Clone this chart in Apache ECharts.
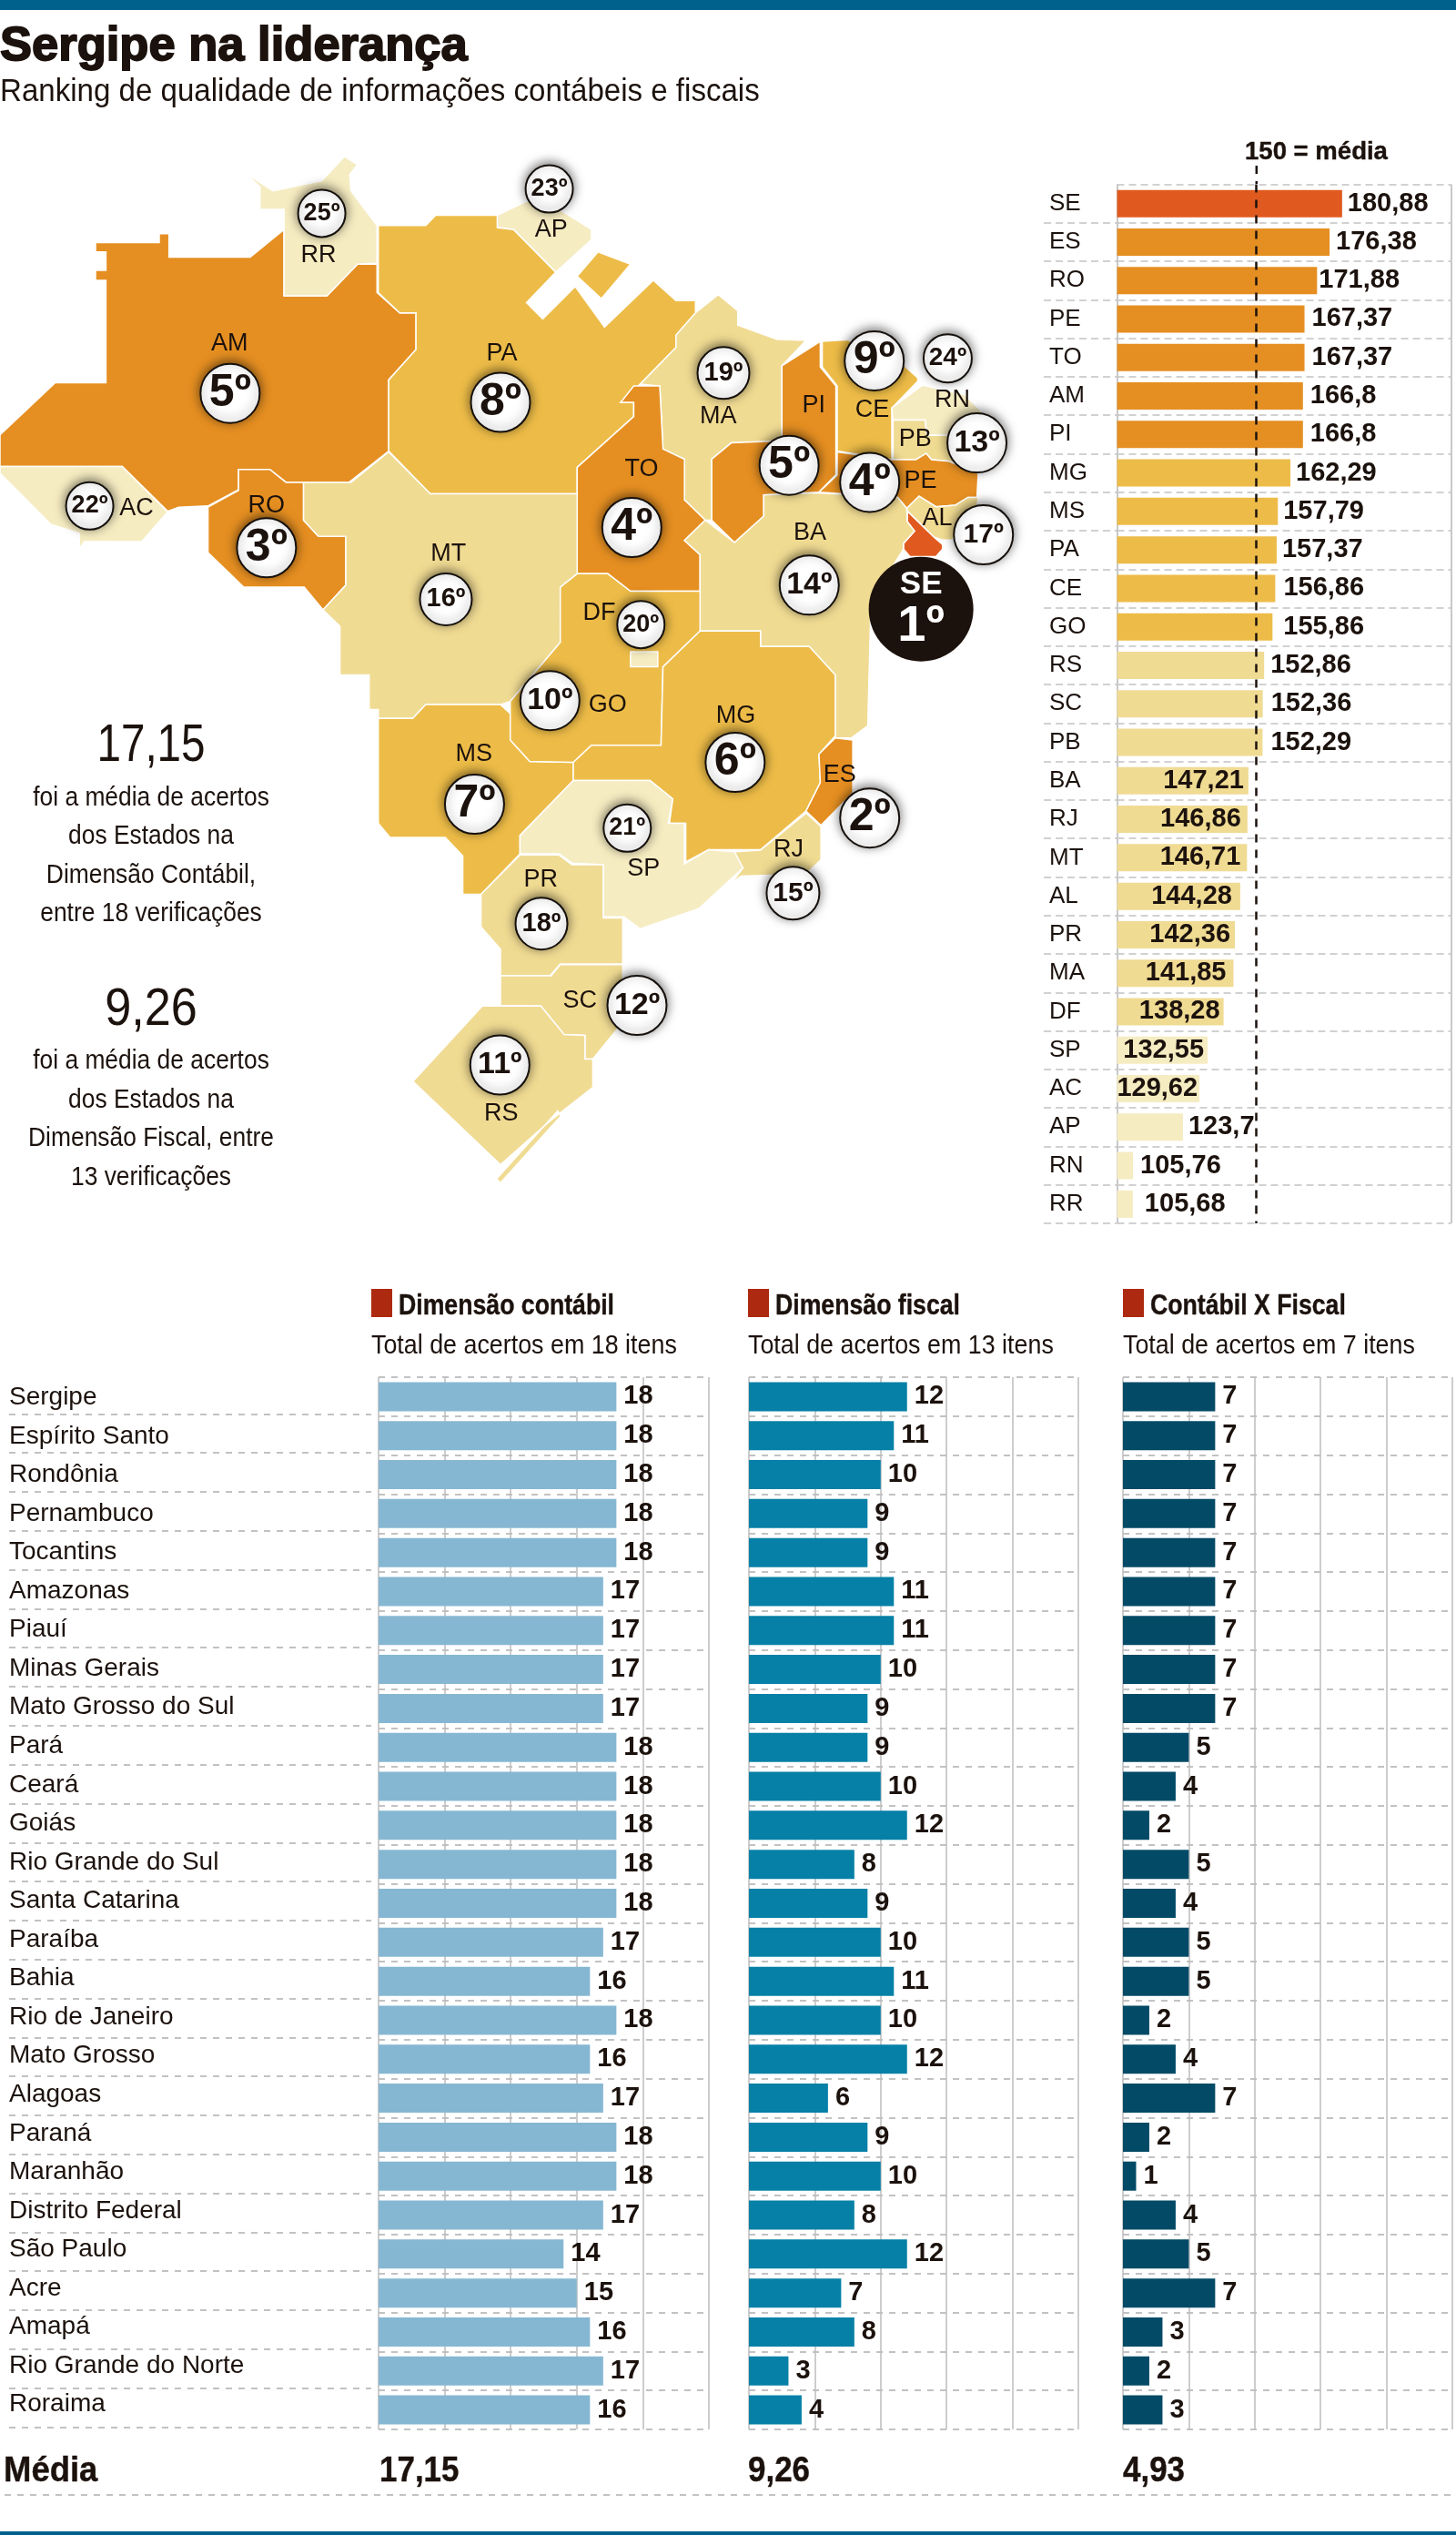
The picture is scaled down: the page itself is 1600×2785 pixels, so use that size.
<!DOCTYPE html>
<html>
<head>
<meta charset="utf-8">
<style>html,body{margin:0;padding:0;background:#fff}#main{width:1600px;height:2785px}</style>
<script src="https://cdn.jsdelivr.net/npm/echarts@6/dist/echarts.min.js"></script>
</head>
<body>
<div id="main"></div>
<script>
// ranking
const rankCodes = ['SE','ES','RO','PE','TO','AM','PI','MG','MS','PA','CE','GO','RS','SC','PB','BA','RJ','MT','AL','PR','MA','DF','SP','AC','AP','RN','RR'];
const rankValues = [180.88,176.38,171.88,167.37,167.37,166.8,166.8,162.29,157.79,157.37,156.86,155.86,152.86,152.36,152.29,147.21,146.86,146.71,144.28,142.36,141.85,138.28,132.55,129.62,123.7,105.76,105.68];
const rankPositions = [1,2,3,4,4,5,5,6,7,8,9,10,11,12,13,14,15,16,17,18,19,20,21,22,23,24,25];

// tabela de baixo
const stateNames = ['Sergipe','Espírito Santo','Rondônia','Pernambuco','Tocantins','Amazonas','Piauí','Minas Gerais','Mato Grosso do Sul','Pará','Ceará','Goiás','Rio Grande do Sul','Santa Catarina','Paraíba','Bahia','Rio de Janeiro','Mato Grosso','Alagoas','Paraná','Maranhão','Distrito Federal','São Paulo','Acre','Amapá','Rio Grande do Norte','Roraima'];
const contabil = [18,18,18,18,18,17,17,17,17,18,18,18,18,18,17,16,18,16,17,18,18,17,14,15,16,17,16];
const fiscal = [12,11,10,9,9,11,11,10,9,9,10,12,8,9,10,11,10,12,6,9,10,8,12,7,8,3,4];
const contabilFiscal = [7,7,7,7,7,7,7,7,7,5,4,2,5,4,5,5,2,4,7,2,1,4,5,7,3,2,3];

const font = '"Liberation Sans",sans-serif';
const ink = '#1c120d';
const gridGray = '#c2c2c2';

// contornos tracados sobre o mapa (px = x/1.4, y/2.24)
const outlines = {
  AM: [[147,597,245,597,245,575,260,575,260,633,385,633,437,565,437,728,503,728,550,650,580,650,580,720,615,770,640,770,640,860,598,935,598,1110,537,1187,440,1187,415,1155,367,1155,367,1205,320,1245,275,1248,258,1258,188,1148,0,1148,0,1070,85,942,163,942,163,690,147,690,147,665,163,665,163,620,147,620]],
  AC: [[0,1148,188,1148,258,1260,218,1333,130,1333,122,1350,122,1312,78,1290,0,1165]],
  RO: [[367,1155,415,1155,440,1187,467,1187,467,1280,490,1320,532,1320,532,1440,497,1501,468,1445,375,1445,320,1360,320,1248,367,1207]],
  RR: [[375,423,400,460,400,515,437,515,437,728,503,728,550,650,580,648,580,555,540,470,538,430,550,405,530,385,495,445,420,470]],
  AP: [[765,530,810,495,845,500,910,565,910,590,855,670,790,565,765,560]],
  PA: [[582,555,655,555,670,530,765,530,765,560,790,565,855,670,810,745,835,785,885,705,930,805,1005,690,1040,740,1070,740,1070,770,1040,825,1040,855,985,945,955,990,975,990,975,1025,888,1150,888,1215,662,1215,598,1110,598,935,640,860,640,770,615,770,582,720],[888,680,920,620,970,650,925,735]],
  MA: [[1105,725,1135,765,1135,800,1195,835,1240,838,1203,900,1203,1085,1125,1090,1095,1130,1095,1280,1085,1280,1053,1230,1053,1130,1020,1105,1015,950,985,945,1040,855,1040,825,1070,770]],
  TO: [[975,950,1015,950,1020,1105,1053,1130,1053,1230,1085,1280,1053,1330,1077,1365,1077,1455,970,1455,935,1412,888,1412,888,1150,975,1025,975,990,955,990]],
  PI: [[1262,840,1262,903,1286,950,1286,1168,1260,1211,1175,1218,1175,1270,1130,1335,1095,1280,1095,1130,1125,1090,1203,1085,1203,900]],
  CE: [[1265,840,1304,836,1391,900,1412,930,1412,938,1372,1004,1372,1131,1288,1110,1288,950,1265,903]],
  RN: [[1372,1004,1419,948,1484,971,1512,1016,1512,1071,1426,1071,1423,1034,1374,1034]],
  PB: [[1374,1034,1423,1034,1426,1071,1512,1071,1505,1165,1460,1135,1433,1131,1425,1116,1409,1131,1374,1131]],
  PE: [[1288,1112,1372,1131,1409,1131,1425,1116,1433,1131,1460,1135,1505,1165,1503,1224,1489,1224,1470,1243,1440,1247,1414,1221,1395,1251,1381,1224,1260,1211,1288,1169]],
  AL: [[1395,1251,1414,1221,1440,1247,1470,1243,1489,1224,1505,1224,1503,1247,1465,1329,1450,1329,1437,1322,1396,1258]],
  SE: [[1396,1258,1437,1322,1450,1340,1450,1351,1440,1370,1400,1370,1390,1351,1390,1337,1407,1307,1396,1284]],
  BA: [[1053,1330,1085,1280,1130,1335,1175,1270,1175,1218,1260,1213,1381,1224,1395,1251,1396,1284,1407,1307,1390,1337,1390,1351,1340,1480,1335,1786,1310,1816,1285,1816,1285,1661,1245,1591,1170,1591,1170,1553,1077,1553,1077,1365]],
  MT: [[598,1112,662,1215,888,1215,888,1412,862,1445,862,1581,785,1726,770,1734,655,1734,635,1768,582,1768,582,1746,568,1746,568,1661,523,1661,523,1541,497,1501,532,1440,532,1320,490,1320,467,1280,467,1187,540,1187]],
  MS: [[582,1768,635,1768,655,1734,770,1734,785,1756,785,1821,815,1874,882,1876,882,1921,800,2056,800,2101,740,2201,712,2201,712,2106,685,2061,600,2061,582,2026]],
  GO: [[888,1412,935,1412,970,1455,1077,1455,1077,1553,1020,1641,1017,1834,910,1834,882,1876,815,1874,785,1821,785,1726,862,1581,862,1445]],
  DF: [[970,1604,1012,1604,1012,1641,970,1641]],
  MG: [[1077,1553,1170,1553,1170,1591,1245,1591,1285,1661,1285,1811,1260,1856,1262,1926,1240,1996,1170,2091,1090,2091,1055,2121,1055,2026,1030,2026,1035,1966,1000,1921,882,1921,882,1876,910,1834,1017,1834,1020,1641]],
  ES: [[1285,1816,1312,1821,1312,1951,1263,2031,1240,1996,1262,1926,1260,1856]],
  RJ: [[1240,2001,1263,2034,1263,2116,1240,2151,1140,2156,1125,2174,1143,2136,1130,2106,1130,2096,1170,2092]],
  SP: [[882,1921,1000,1921,1035,1966,1028,2026,1053,2026,1053,2126,1090,2091,1130,2096,1143,2136,1075,2236,985,2286,960,2256,928,2256,928,2128,880,2124,860,2101,800,2101,800,2056]],
  PR: [[800,2104,860,2104,880,2128,928,2128,928,2259,958,2259,958,2372,862,2372,846,2401,770,2401,770,2336,740,2281,740,2201]],
  SC: [[770,2401,848,2401,862,2374,958,2374,958,2516,912,2606,900,2606,900,2548,868,2546,832,2476,770,2474]],
  RS: [[742,2476,832,2476,868,2546,900,2548,900,2606,912,2606,912,2676,845,2760,770,2866,635,2661,628,2674],[858,2734,764,2901,770,2911,863,2746]]
};
// posicao do selo [x, y, diametro, fonte] e da sigla [x, y]
const badgeSpots = {
  AC:[138,1245,52,27], AM:[354,968,65,50], RO:[410,1348,65,50], RR:[495,525,52,27], AP:[845,465,52,27],
  PA:[770,990,65,50], MA:[1113,918,57,29], TO:[972,1298,65,50], PI:[1214,1145,65,50], CE:[1345,888,65,50],
  RN:[1458,882,53,28], PB:[1503,1090,65,34], PE:[1338,1187,65,50], AL:[1513,1316,65,30], BA:[1245,1440,65,34],
  MT:[686,1475,57,29], DF:[986,1537,52,27], GO:[846,1724,65,34], MG:[1131,1876,65,50], MS:[730,1979,65,50],
  ES:[1338,2013,65,50], SP:[965,2038,52,27], RJ:[1220,2198,58,30], PR:[833,2273,57,29], SC:[980,2474,65,34], RS:[769,2621,65,34]
};
const codeSpots = {
  AC:[210,1252], AM:[353,845], RO:[410,1245], RR:[490,628], AP:[848,565], PA:[772,870], MA:[1105,1025], TO:[987,1155],
  PI:[1252,997], CE:[1342,1010], RN:[1465,985], PB:[1408,1082], PE:[1416,1183], AL:[1442,1275], BA:[1246,1312],
  MT:[690,1363], DF:[922,1509], GO:[935,1736], MG:[1132,1761], MS:[729,1856], ES:[1292,1908], SP:[990,2139],
  RJ:[1213,2091], PR:[832,2164], SC:[892,2464], RS:[771,2741]
};
const sergipeSpot = [1417,1499];
// distancia do rotulo ate a barra
const labelGaps = {SE:6,ES:7,RO:2,PE:8,TO:8,AM:8,PI:8,MG:6,MS:6,PA:6,CE:9,GO:12,RS:7,SC:9,PB:9,BA:5,RJ:7,MT:7,AL:9,PR:5,MA:8,DF:4,SP:4,AC:2,AP:6,RN:8,RR:13};
const insideCodes = ['BA','RJ','MT','AL','PR','MA','DF','SP','AC'];

const toPx = (x, y) => [x / 1.4, y / 2.24];

function colorFor(v) {
  if (v > 180) return '#E05A1F';
  if (v > 165) return '#E58F22';
  if (v > 155) return '#EDBC48';
  if (v > 135) return '#F0DB93';
  return '#F6ECC2';
}

const features = Object.keys(outlines).map(code => ({
  type: 'Feature',
  properties: {name: code},
  geometry: {
    type: 'MultiPolygon',
    coordinates: outlines[code].map(ring => {
      const pts = [];
      for (let i = 0; i < ring.length; i += 2) pts.push(toPx(ring[i], ring[i + 1]));
      pts.push(pts[0]);
      return [pts];
    })
  }
}));
echarts.registerMap('brasil', {type: 'FeatureCollection', features: features});

const regions = rankCodes.map((code, i) => ({
  name: code,
  itemStyle: {areaColor: code === 'DF' ? '#F6ECC2' : colorFor(rankValues[i])}
}));

const badgeData = rankCodes.filter(c => c !== 'SE').map(code => {
  const s = badgeSpots[code];
  return {
    value: toPx(s[0], s[1]),
    symbolSize: s[2],
    label: {
      fontSize: s[3],
      formatter: rankPositions[rankCodes.indexOf(code)] + 'º'
    }
  };
});
const codeData = rankCodes.filter(c => c !== 'SE').map(code => ({
  value: toPx(codeSpots[code][0], codeSpots[code][1]),
  label: {formatter: code}
}));

// grids: 0 nomes ranking, 1 barras ranking, 2 linhas dos nomes, 3-5 barras tabela, 6 nomes tabela
const tableTop = 1513, tableHeight = 1156;
const grids = [
  {left: 1147, top: 202.5, width: 80, height: 1141.5},
  {left: 1227.5, top: 202.5, width: 367, height: 1141.5},
  {left: 10, top: tableTop - 2.5, width: 398, height: tableHeight},
  {left: 416, top: tableTop, width: 363, height: tableHeight},
  {left: 823, top: tableTop, width: 362, height: tableHeight},
  {left: 1234, top: tableTop, width: 362, height: tableHeight},
  {left: 10, top: tableTop + 1, width: 398, height: tableHeight - 7}
];

const dashed = (dash, w) => ({show: true, interval: 0, lineStyle: {color: gridGray, type: dash, width: w}});

const tableX = g => ({
  gridIndex: g, type: 'value', min: 0, max: 25, interval: 5,
  axisLine: {show: false}, axisTick: {show: false}, axisLabel: {show: false},
  splitLine: {show: true, lineStyle: {color: '#bdbdbd', width: 1.5}}
});
const tableY = g => ({
  gridIndex: g, type: 'category', inverse: true, data: stateNames,
  axisLine: {show: false}, axisTick: {show: false}, axisLabel: {show: false},
  splitLine: dashed([7, 7], 2)
});
const tableSeries = (g, data, color) => ({
  type: 'bar', xAxisIndex: g, yAxisIndex: g, data: data, barWidth: 32,
  itemStyle: {color: color},
  label: {show: true, position: 'right', distance: 8, fontFamily: font, fontWeight: 'bold', fontSize: 29, color: ink},
  silent: true
});

const texts = [];
function addText(x, y, text, size, weight, align, scaleX, stroke) {
  const style = {
    text: text, fontSize: size, fontWeight: weight || 'normal', fontFamily: font,
    fill: ink, align: align || 'left', verticalAlign: 'middle'
  };
  if (stroke) {
    style.stroke = ink;
    style.lineWidth = stroke;
  }
  texts.push({type: 'text', x: x, y: y, scaleX: scaleX || 1, silent: true, z: 50, style: style});
}
addText(0, 52, 'Sergipe na liderança', 52, 'bold', 'left', 1.01, 1.8);
addText(0, 101, 'Ranking de qualidade de informações contábeis e fiscais', 35, 'normal', 'left', 0.945);
addText(1368, 168, '150 = média', 27, 'bold', 'left', 1.02, 0.4);

addText(166, 820, '17,15', 58, 'normal', 'center', 0.82);
['foi a média de acertos', 'dos Estados na', 'Dimensão Contábil,', 'entre 18 verificações'].forEach((t, i) => addText(166, 877 + i * 42.3, t, 29, 'normal', 'center', 0.91));
addText(166, 1110, '9,26', 58, 'normal', 'center', 0.9);
['foi a média de acertos', 'dos Estados na', 'Dimensão Fiscal, entre', '13 verificações'].forEach((t, i) => addText(166, 1166 + i * 42.7, t, 29, 'normal', 'center', 0.91));

const headers = [
  [408, 'Dimensão contábil', 'Total de acertos em 18 itens', '17,15', 417],
  [822, 'Dimensão fiscal', 'Total de acertos em 13 itens', '9,26', 822],
  [1234, 'Contábil X Fiscal', 'Total de acertos em 7 itens', '4,93', 1234]
];
const rects = headers.map(h => ({
  type: 'rect', silent: true, z: 50,
  shape: {x: h[0], y: 1416, width: 23, height: 31},
  style: {fill: '#AD2A10'}
}));
headers.forEach(h => {
  addText(h[0] + 30, 1435, h[1], 31, 'bold', 'left', 0.86, 0.4);
  addText(h[0], 1479, h[2], 30, 'normal', 'left', 0.895);
  addText(h[4], 2716, h[3], 38, 'bold', 'left', 0.92, 0.4);
});
addText(4, 2716, 'Média', 38, 'bold', 'left', 0.96, 0.4);

const option = {
  animation: false,
  backgroundColor: '#fff',
  grid: grids,
  geo: {
    map: 'brasil',
    projection: {project: p => p, unproject: p => p},
    boundingCoords: [[0, 0], [1600, 2785]],
    left: 0, top: 0, width: 1600, height: 2785,
    silent: true,
    label: {show: false},
    itemStyle: {borderColor: '#fff', borderWidth: 1.5, areaColor: '#F0DB93'},
    regions: regions
  },
  xAxis: [
    {gridIndex: 0, type: 'value', show: false},
    {gridIndex: 1, type: 'value', min: 100, max: 220, interval: 120,
      axisLine: {show: false}, axisTick: {show: false}, axisLabel: {show: false},
      splitLine: {show: true, lineStyle: {color: '#c8c8c8', width: 2}}},
    {gridIndex: 2, type: 'value', show: false},
    tableX(3), tableX(4), tableX(5),
    {gridIndex: 6, type: 'value', show: false}
  ],
  yAxis: [
    {gridIndex: 0, type: 'category', inverse: true, data: rankCodes,
      axisLine: {show: false}, axisTick: {show: false},
      axisLabel: {inside: true, align: 'left', margin: 6, fontFamily: font, fontSize: 26, color: ink, interval: 0},
      splitLine: Object.assign(dashed([8, 5], 1.5), {showMinLine: false})},
    {gridIndex: 1, type: 'category', inverse: true, data: rankCodes,
      axisLine: {show: false}, axisTick: {show: false}, axisLabel: {show: false},
      splitLine: dashed([8, 5], 1.5)},
    {gridIndex: 2, type: 'category', inverse: true, data: stateNames,
      axisLine: {show: false}, axisTick: {show: false}, axisLabel: {show: false},
      splitLine: Object.assign(dashed([7, 7], 2), {showMinLine: false})},
    tableY(3), tableY(4), tableY(5),
    {gridIndex: 6, type: 'category', inverse: true, data: stateNames,
      axisLine: {show: false}, axisTick: {show: false}, splitLine: {show: false},
      axisLabel: {inside: true, align: 'left', margin: 0, fontFamily: font, fontSize: 28, color: ink, interval: 0}}
  ],
  series: [
    {
      type: 'bar', xAxisIndex: 1, yAxisIndex: 1, barWidth: 30, silent: true,
      data: rankValues.map((v, i) => {
        const code = rankCodes[i];
        return {
          value: v,
          itemStyle: {color: colorFor(v)},
          label: {position: insideCodes.includes(code) ? 'insideRight' : 'right', distance: labelGaps[code]}
        };
      }),
      label: {
        show: true, fontFamily: font, fontWeight: 'bold', fontSize: 29, color: ink,
        formatter: p => String(p.value).replace('.', ',')
      },
      markLine: {
        silent: true, symbol: 'none', label: {show: false},
        lineStyle: {color: ink, type: [9, 8], width: 2.5},
        data: [{xAxis: 150}]
      }
    },
    tableSeries(3, contabil, '#86B7D2'),
    tableSeries(4, fiscal, '#0680A6'),
    tableSeries(5, contabilFiscal, '#034A66'),
    {
      type: 'scatter', coordinateSystem: 'geo', geoIndex: 0, silent: true, symbolSize: 1, z: 5,
      itemStyle: {color: 'transparent', opacity: 1},
      label: {show: true, position: 'inside', fontFamily: font, fontSize: 27, color: ink},
      data: codeData
    },
    {
      type: 'scatter', coordinateSystem: 'geo', geoIndex: 0, silent: true, symbol: 'circle', z: 6,
      itemStyle: {color: '#fff', opacity: 1, borderColor: '#15100c', borderWidth: 2, shadowBlur: 12, shadowColor: 'rgba(0,0,0,0.55)', shadowOffsetY: -2},
      label: {show: true, position: 'inside', fontFamily: font, fontWeight: 'bold', color: ink},
      data: badgeData
    },
    {
      type: 'scatter', coordinateSystem: 'geo', geoIndex: 0, silent: true, symbol: 'circle', z: 7, symbolSize: 115,
      itemStyle: {color: '#1c120d', opacity: 1},
      label: {
        show: true, position: 'inside', color: '#fff', fontFamily: font, fontWeight: 'bold',
        formatter: '{a|SE}\n{b|1º}',
        rich: {
          a: {fontSize: 35, lineHeight: 38, color: '#fff', fontFamily: font, fontWeight: 'bold'},
          b: {fontSize: 56, lineHeight: 54, color: '#fff', fontFamily: font, fontWeight: 'bold'}
        }
      },
      data: [{value: toPx(sergipeSpot[0], sergipeSpot[1])}]
    }
  ],
  graphic: {
    elements: [
      {type: 'rect', silent: true, shape: {x: 0, y: 0, width: 1600, height: 11}, style: {fill: '#00628C'}},
      {type: 'rect', silent: true, shape: {x: 0, y: 2781, width: 1600, height: 4}, style: {fill: '#00628C'}},
      {type: 'line', silent: true, shape: {x1: 1380.8, y1: 182, x2: 1380.8, y2: 202}, style: {stroke: ink, lineWidth: 2.5, lineDash: [9, 8]}},
      {type: 'line', silent: true, shape: {x1: 5, y1: 2741, x2: 1595, y2: 2741}, style: {stroke: gridGray, lineWidth: 2, lineDash: [7, 7]}}
    ].concat(rects, texts)
  }
};

const chart = echarts.init(document.getElementById('main'), null, {renderer: 'canvas'});
chart.setOption(option);
</script>
</body>
</html>
